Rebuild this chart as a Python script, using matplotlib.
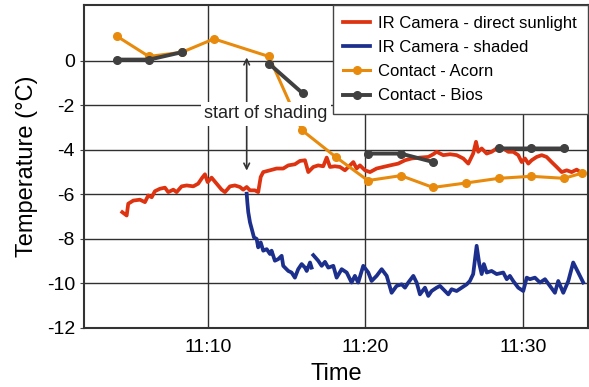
import matplotlib
matplotlib.use("Agg")
import matplotlib.pyplot as plt
import numpy as np

plt.rcParams['font.family'] = ['Liberation Sans', 'DejaVu Sans']
plt.rcParams['axes.unicode_minus'] = False

# time in minutes after 11:00, temperature in degC
ir_sun_t = [4.56, 4.84, 4.94, 5.26, 5.68, 6.00, 6.21, 6.43, 6.63, 6.95, 7.27, 7.48, 7.80, 8.01,
            8.33, 8.65, 9.07, 9.38, 9.64, 9.81, 9.98, 10.23, 10.55, 10.87, 11.08, 11.40, 11.71,
            12.03, 12.24, 12.46, 12.67, 12.98, 13.19, 13.35, 13.51, 13.94, 14.36, 14.78, 15.10,
            15.52, 15.84, 16.16, 16.37, 16.69, 17.00, 17.32, 17.54, 17.75, 18.06, 18.38, 18.70,
            19.02, 19.23, 19.44, 19.65, 19.97, 20.29, 20.71, 21.13, 21.56, 22.08, 22.51, 22.93,
            23.46, 23.99, 24.30, 24.52, 24.94, 25.37, 25.79, 26.21, 26.53, 26.84, 27.02, 27.16,
            27.38, 27.70, 28.01, 28.33, 28.75, 29.07, 29.38, 29.70, 29.92, 30.13, 30.34, 30.55,
            30.87, 31.19, 31.50, 31.82, 32.14, 32.46, 32.78, 33.09, 33.41, 33.73]
ir_sun_v = [-6.80, -6.95, -6.42, -6.28, -6.24, -6.35, -6.05, -6.13, -5.86, -5.75, -5.70, -5.90,
            -5.79, -5.90, -5.64, -5.60, -5.64, -5.52, -5.25, -5.10, -5.45, -5.25, -5.52, -5.79,
            -5.90, -5.64, -5.60, -5.67, -5.79, -5.67, -5.82, -5.82, -5.90, -5.22, -5.00, -4.92,
            -4.84, -4.84, -4.70, -4.65, -4.50, -4.47, -5.00, -4.77, -4.70, -4.74, -4.35, -4.77,
            -4.74, -4.77, -4.92, -4.70, -4.55, -4.84, -4.70, -4.92, -5.00, -4.84, -4.77, -4.70,
            -4.62, -4.47, -4.39, -4.35, -4.32, -4.20, -4.09, -4.24, -4.20, -4.24, -4.39, -4.62,
            -4.17, -3.64, -4.09, -3.94, -4.17, -4.09, -3.94, -3.94, -4.09, -4.09, -4.24, -4.55,
            -4.39, -4.62, -4.47, -4.32, -4.24, -4.32, -4.55, -4.77, -5.00, -4.92, -5.00, -4.89,
            -5.04]

ir_shade_t = [12.46, 12.50, 12.56, 12.67, 12.84, 12.92, 13.09, 13.19, 13.35, 13.51, 13.73, 13.94,
              14.04, 14.25, 14.46, 14.68, 14.78, 15.10, 15.31, 15.52, 15.73, 15.95, 16.16, 16.27,
              16.48, 16.58, 16.63, 16.69, 17.00, 17.22, 17.43, 17.64, 17.96, 18.17, 18.49, 18.81,
              19.12, 19.33, 19.54, 19.86, 20.18, 20.39, 20.71, 21.03, 21.35, 21.66, 21.98, 22.30,
              22.51, 22.72, 23.04, 23.25, 23.46, 23.78, 23.99, 24.20, 24.52, 24.73, 24.94, 25.26,
              25.47, 25.79, 26.11, 26.43, 26.63, 26.84, 27.06, 27.23, 27.38, 27.52, 27.70, 28.01,
              28.33, 28.75, 28.97, 29.17, 29.38, 29.70, 30.02, 30.24, 30.44, 30.76, 31.08, 31.40,
              31.71, 32.03, 32.24, 32.56, 32.88, 33.19, 33.51, 33.83]
ir_shade_v = [-5.97, -6.35, -6.80, -7.26, -7.71, -7.93, -8.00, -8.38, -8.16, -8.53, -8.46, -8.68,
              -8.53, -8.98, -8.91, -8.76, -9.21, -9.44, -9.51, -9.74, -9.36, -9.13, -9.29, -9.44,
              -9.06, -9.29, np.nan, -8.73, -8.98, -9.21, -9.03, -9.29, -9.21, -9.74, -9.36, -9.51,
              -9.96, -9.66, -9.96, -9.21, -9.51, -9.89, -9.66, -9.36, -9.66, -10.42, -10.11, -10.04,
              -10.19, -9.96, -9.66, -9.96, -10.49, -10.19, -10.56, -10.34, -10.19, -10.11, -10.26, -10.49,
              -10.26, -10.34, -10.19, -10.04, -9.89, -9.58, -8.31, -9.13, -9.58, -9.13, -9.51, -9.44,
              -9.58, -9.51, -9.81, -9.66, -9.89, -10.19, -10.34, -9.74, -9.81, -9.74, -9.96, -9.81,
              -10.11, -10.42, -9.89, -10.42, -9.89, -9.06, -9.51, -9.96]

acorn_t = [4.22, 6.25, 8.35, 10.38, 13.87, 15.97, 18.13, 20.16, 22.25, 24.29, 26.38, 28.48, 30.51, 32.60, 33.75]
acorn_v = [1.10, 0.19, 0.38, 0.98, 0.19, -3.12, -4.33, -5.38, -5.16, -5.69, -5.49, -5.28, -5.19, -5.28, -5.05]

bios_t = [4.20, 6.27, 8.33, 11.0, 13.89, 16.01, 18.0, 20.14, 22.24, 24.31, 26.0, 28.48, 30.53, 32.62]
bios_v = [0.05, 0.05, 0.38, np.nan, -0.14, -1.46, np.nan, -4.17, -4.17, -4.55, np.nan, -3.94, -3.94, -3.94]

x_ticks = [10, 20, 30]
x_tick_labels = ['11:10', '11:20', '11:30']
y_ticks = [0, -2, -4, -6, -8, -10, -12]

fig = plt.figure(figsize=(5.89, 3.87), dpi=100)
ax = fig.add_axes([0.1426, 0.1525, 0.8557, 0.8345])

ax.plot(ir_sun_t, ir_sun_v, color='#dd3311', lw=2.7, label='IR Camera - direct sunlight', zorder=3)
ax.plot(ir_shade_t, ir_shade_v, color='#1c2f8c', lw=2.7, label='IR Camera - shaded', zorder=4)
ax.plot(acorn_t, acorn_v, color='#e88a0c', lw=2.2, marker='o', ms=5.5, label='Contact - Acorn', zorder=5)
ax.plot(bios_t, bios_v, color='#404040', lw=2.8, marker='o', ms=5.5, label='Contact - Bios', zorder=6)

ax.set_xlim(2.13, 34.13)
ax.set_ylim(-12, 2.5)
ax.set_xticks(x_ticks)
ax.set_xticklabels(x_tick_labels)
ax.set_yticks(y_ticks)
ax.tick_params(axis='both', labelsize=14, length=3, color='#444444')
ax.tick_params(axis='x', length=0, pad=8)
ax.grid(True, color='#303030', lw=1.0)
ax.set_axisbelow(True)
for s in ax.spines.values():
    s.set_color('#333333')
    s.set_linewidth(1.5)

ax.set_xlabel('Time', fontsize=17, labelpad=5)
ax.set_ylabel('Temperature (°C)', fontsize=17, labelpad=6)

ax.annotate('', xy=(12.46, 0.27), xytext=(12.46, -5.06),
            arrowprops=dict(arrowstyle='<->', color='#333333', lw=1.2), zorder=7)
ax.text(13.68, -2.39, 'start of shading', fontsize=13, ha='center', va='center', color='#222222',
        bbox=dict(facecolor='white', edgecolor='none', pad=2.5), zorder=8)

leg = ax.legend(loc='upper right', fontsize=12, frameon=True, fancybox=False, framealpha=1,
                edgecolor='#444444', borderaxespad=0, handlelength=1.6, handletextpad=0.5,
                labelspacing=0.55, borderpad=0.65)
leg.get_frame().set_linewidth(1.0)
leg.set_zorder(10)

fig.savefig('out.png', dpi=100)
